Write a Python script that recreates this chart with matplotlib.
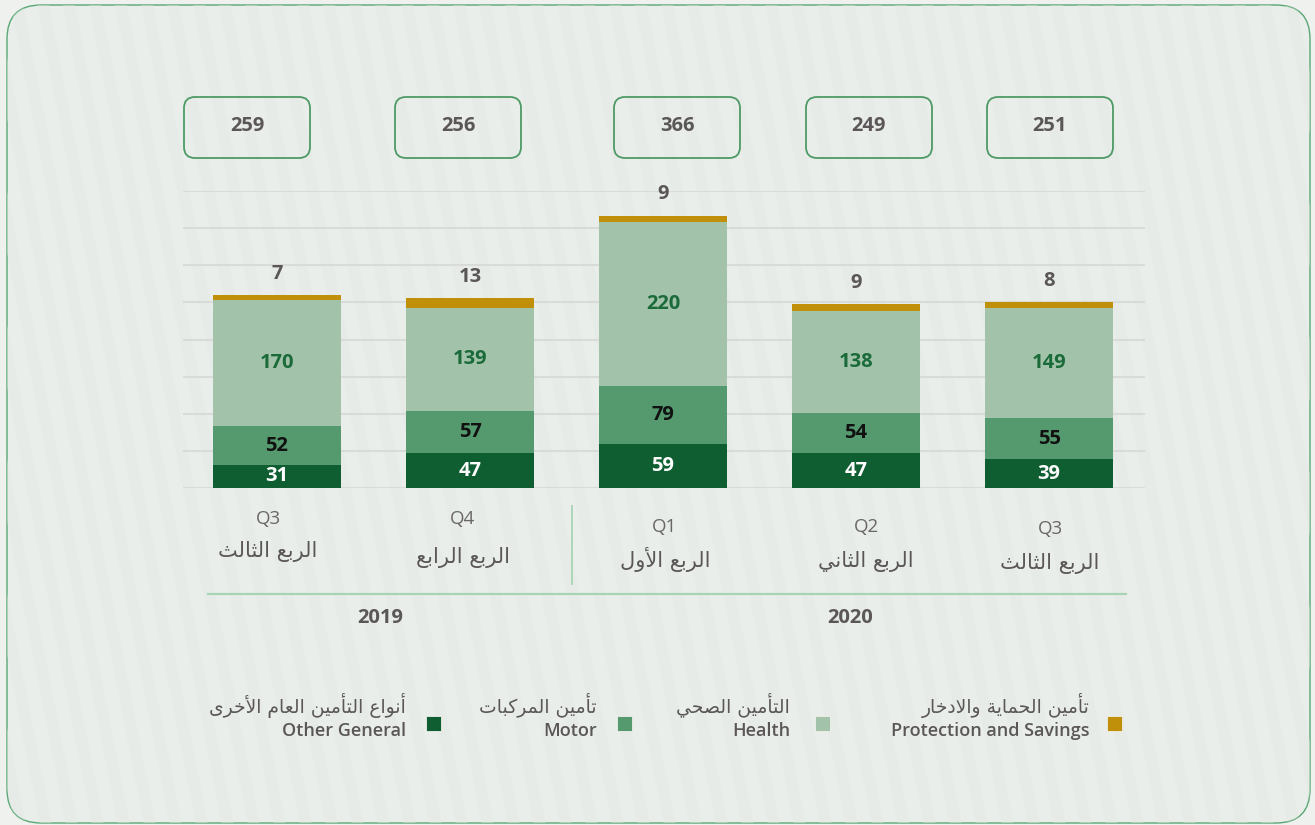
import matplotlib
matplotlib.use("Agg")
import matplotlib.pyplot as plt
from matplotlib.patches import FancyBboxPatch, Rectangle, Polygon
import numpy as np

# -----------------------------
# Data
# -----------------------------
quarters_en = ["Q3", "Q4", "Q1", "Q2", "Q3"]
quarters_ar = ["الربع الثالث", "الربع الرابع", "الربع الأول", "الربع الثاني", "الربع الثالث"]
years = ["2019", "2020"]

other_general = [31, 47, 59, 47, 39]
motor = [52, 57, 79, 54, 55]
health = [170, 139, 220, 138, 149]
protection = [7, 13, 9, 9, 8]
totals = [259, 256, 366, 249, 251]

names_ar = ["أنواع التأمين العام الأخرى", "تأمين المركبات", "التأمين الصحي", "تأمين الحماية والادخار"]
names_en = ["Other General", "Motor", "Health", "Protection and Savings"]
colors = ["#0f5e32", "#559a6e", "#a3c2aa", "#c0900a"]
label_colors = ["white", "#111111", "#1b6b3a"]

# -----------------------------
# Minimal Arabic shaping (no reshaper lib available)
# -----------------------------
AR_FORMS = {
    "ا": ("\uFE8D", "\uFE8E"), "أ": ("\uFE83", "\uFE84"), "د": ("\uFEA9", "\uFEAA"),
    "ر": ("\uFEAD", "\uFEAE"), "و": ("\uFEED", "\uFEEE"), "ة": ("\uFE93", "\uFE94"),
    "ى": ("\uFEEF", "\uFEF0"),
    "ب": ("\uFE8F", "\uFE90", "\uFE91", "\uFE92"), "ت": ("\uFE95", "\uFE96", "\uFE97", "\uFE98"),
    "ث": ("\uFE99", "\uFE9A", "\uFE9B", "\uFE9C"), "ح": ("\uFEA1", "\uFEA2", "\uFEA3", "\uFEA4"),
    "خ": ("\uFEA5", "\uFEA6", "\uFEA7", "\uFEA8"), "ص": ("\uFEB9", "\uFEBA", "\uFEBB", "\uFEBC"),
    "ع": ("\uFEC9", "\uFECA", "\uFECB", "\uFECC"), "ك": ("\uFED9", "\uFEDA", "\uFEDB", "\uFEDC"),
    "ل": ("\uFEDD", "\uFEDE", "\uFEDF", "\uFEE0"), "م": ("\uFEE1", "\uFEE2", "\uFEE3", "\uFEE4"),
    "ن": ("\uFEE5", "\uFEE6", "\uFEE7", "\uFEE8"), "ه": ("\uFEE9", "\uFEEA", "\uFEEB", "\uFEEC"),
    "ي": ("\uFEF1", "\uFEF2", "\uFEF3", "\uFEF4"),
}
LAM_ALEF = {"ا": ("\uFEFB", "\uFEFC"), "أ": ("\uFEF7", "\uFEF8")}


def shape_ar(s):
    units = []
    i = 0
    while i < len(s):
        if s[i] == "ل" and i + 1 < len(s) and s[i + 1] in LAM_ALEF:
            units.append(("LA", s[i + 1]))
            i += 2
        else:
            units.append((s[i], None))
            i += 1

    def dual(u):
        return u[0] in AR_FORMS and len(AR_FORMS[u[0]]) == 4

    def joins(u):
        return u[0] == "LA" or u[0] in AR_FORMS

    out = []
    for k, u in enumerate(units):
        prev = units[k - 1] if k > 0 else None
        nxt = units[k + 1] if k + 1 < len(units) else None
        pj = prev is not None and dual(prev)
        if u[0] == "LA":
            out.append(LAM_ALEF[u[1]][1 if pj else 0])
            continue
        if u[0] not in AR_FORMS:
            out.append(u[0])
            continue
        f = AR_FORMS[u[0]]
        nj = len(f) == 4 and nxt is not None and joins(nxt)
        if pj and nj:
            out.append(f[3])
        elif pj:
            out.append(f[1])
        elif nj:
            out.append(f[2])
        else:
            out.append(f[0])
    return "".join(reversed(out))


FONT = ["Open Sans", "DejaVu Sans"]
GREY = "#5b5758"
plt.rcParams["font.family"] = FONT

# -----------------------------
# Figure + background card (pixel coords)
# -----------------------------
W, H = 1315, 825
fig = plt.figure(figsize=(W / 100, H / 100), dpi=100, facecolor="#eef1ee")
bg = fig.add_axes([0, 0, 1, 1], zorder=0)
bg.set_xlim(0, W)
bg.set_ylim(H, 0)
bg.axis("off")

card = FancyBboxPatch((7, 5), 1303, 818, boxstyle="round,pad=0,rounding_size=34",
                      facecolor="#e9eeea", edgecolor="#5aa775", lw=1.0)
bg.add_patch(card)
for x0 in range(-250, W + 60, 26):
    stripe = Polygon([(x0, 0), (x0 + 12, 0), (x0 + 12 + 160, H), (x0 + 160, H)],
                     closed=True, facecolor="#e3e8e4", edgecolor="none", alpha=0.45)
    bg.add_patch(stripe)
    stripe.set_clip_path(card)

# total boxes
box_cx = [247, 458, 677, 869, 1050]
for cx, tot in zip(box_cx, totals):
    bg.add_patch(FancyBboxPatch((cx - 63, 97), 126, 61, boxstyle="round,pad=0,rounding_size=11",
                                facecolor="none", edgecolor="#4e9a66", lw=1.3))
    bg.text(cx, 126, str(tot), ha="center", va="center", fontsize=14.5,
            fontweight="bold", color=GREY)

# -----------------------------
# Stacked bars
# -----------------------------
ax = fig.add_axes([183 / W, 1 - 488 / H, 962 / W, (488 - 191) / H], zorder=1)
ax.patch.set_alpha(0)
x = np.arange(len(totals))
series = [other_general, motor, health, protection]
bottom = np.zeros(len(x))
for i, vals in enumerate(series):
    vals = np.array(vals, dtype=float)
    ax.bar(x, vals, bottom=bottom, width=0.665, color=colors[i], zorder=2)
    if i < 3:
        for xi, b, v in zip(x, bottom, vals):
            ax.text(xi, b + v / 2, str(int(v)), ha="center", va="center",
                    fontsize=14.5, fontweight="bold", color=label_colors[i], zorder=3)
    else:
        for xi, b, v in zip(x, bottom, vals):
            ax.annotate(str(int(v)), (xi, b + v), xytext=(0, 8), textcoords="offset points",
                        ha="center", va="bottom", fontsize=14.5, fontweight="bold", color=GREY)
    bottom += vals

ax.set_xlim(-0.487, 4.497)
ax.set_ylim(0, 400)
ax.set_yticks(np.arange(0, 401, 50))
ax.yaxis.grid(True, color="#d8dbd8", lw=1.5)
ax.set_axisbelow(True)
ax.set_xticks([])
ax.tick_params(left=False, labelleft=False)
for sp in ax.spines.values():
    sp.set_visible(False)

# -----------------------------
# Quarter / year labels
# -----------------------------
q_cx = [268, 463, 665, 866, 1050]
q_y = [519, 519, 527, 527, 529]
ar_y = [552, 557, 560, 562, 563]
for cx, qy, ay, qe, qa in zip(q_cx, q_y, ar_y, quarters_en, quarters_ar):
    bg.text(cx, qy, qe, ha="center", va="center", fontsize=13.5, color="#6a6667")
    bg.text(cx, ay, shape_ar(qa), ha="center", va="center", fontsize=15,
            color=GREY, family="DejaVu Sans")

bg.plot([572, 572], [506, 584], color="#a8d4b5", lw=1.3)
bg.plot([208, 1126], [594, 594], color="#a8d4b5", lw=1.6)
for yx, yr in zip([380, 850], years):
    bg.text(yx, 618, yr, ha="center", va="center", fontsize=14.5, fontweight="bold", color=GREY)

# -----------------------------
# Legend
# -----------------------------
sq_cx = [434, 625, 823, 1115]
txt_r = [406, 597, 790, 1090]
for i in range(4):
    bg.add_patch(Rectangle((sq_cx[i] - 7.5, 716), 15, 15, facecolor=colors[i],
                           edgecolor="#f0f0e8", lw=0.6))
    bg.text(txt_r[i], 705, shape_ar(names_ar[i]), ha="right", va="center", fontsize=13.5,
            color=GREY, family="DejaVu Sans")
    bg.text(txt_r[i], 731, names_en[i], ha="right", va="center", fontsize=13,
            fontweight="semibold", color=GREY)

fig.savefig("out.png", dpi=100, facecolor=fig.get_facecolor())
